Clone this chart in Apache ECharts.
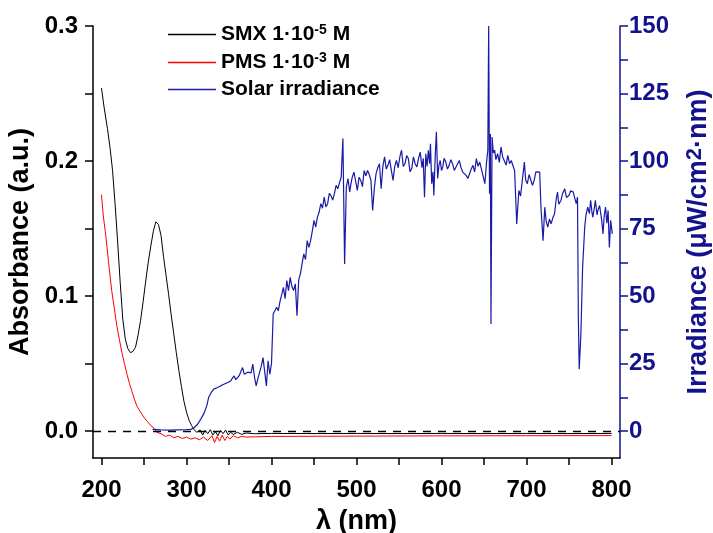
<!DOCTYPE html>
<html>
<head>
<meta charset="utf-8">
<script src="https://cdn.jsdelivr.net/npm/echarts@6/dist/echarts.min.js"></script>
<style>
html,body{margin:0;padding:0;background:#fff;}
#chart{width:713px;height:533px;}
</style>
</head>
<body>
<div id="chart"></div>
<script>
// ---- Data ----
var smxWl  = [200,203,207,210,213,216,219,222,225,228,231,234,237,240,243,246,249,252,255,258,261,264,267,270,273,276,279,282,285,288,291,294,297,300,303,306,309,312,316,319,322,325,328,331,334,337,340,343,346,349,352,355,360,365,370,380,400,450,500,550,600,650,700,750,800];
var smxAbs = [0.254,0.240,0.224,0.210,0.193,0.168,0.140,0.110,0.083,0.068,0.061,0.058,0.059,0.062,0.071,0.082,0.096,0.111,0.125,0.137,0.148,0.155,0.153,0.145,0.129,0.115,0.101,0.086,0.072,0.058,0.045,0.033,0.022,0.014,0.008,0.004,0.001,-0.001,0.0008,-0.003,0.0005,-0.002,0.001,-0.003,-0.0005,-0.0035,0.0005,-0.002,0.0007,-0.003,-0.001,-0.0025,-0.001,-0.0025,-0.0015,-0.002,-0.0018,-0.0019,-0.0018,-0.0019,-0.0018,-0.0019,-0.0018,-0.0019,-0.0018];

var pmsWl  = [200,202,205,209,212,215,218,221,224,227,230,233,236,239,242,246,250,254,258,262,265,270,275,280,285,290,295,300,305,310,315,320,325,330,333,336,339,342,345,348,351,355,360,365,370,400,500,600,700,800];
var pmsAbs = [0.175,0.160,0.145,0.121,0.104,0.091,0.078,0.068,0.058,0.050,0.042,0.035,0.029,0.023,0.018,0.014,0.010,0.007,0.004,0.002,-0.001,-0.002,-0.004,-0.003,-0.005,-0.004,-0.0055,-0.0045,-0.006,-0.005,-0.0065,-0.0045,-0.007,-0.0035,-0.0085,-0.004,-0.0075,-0.003,-0.007,-0.004,-0.006,-0.0035,-0.005,-0.004,-0.0045,-0.004,-0.0038,-0.0036,-0.0035,-0.0034];

var solarWl = [260,270,280,290,300,305,309,313,317,321,324,326,329,332,334,336,338,340,342,344,346,348,350,352,354,356,358,360,362,364,366,368,370,372,374,376,378,380,382,384,386,388,390,392,394,396,398,400,402,404,406,408,410,412,414,416,418,420,422,424,426,428,430,432,434,436,438,440,442,444,446,448,450,452,454,456,458,460,462,464,466,468,470,472,474,476,478,480,482,484,486,488,490,492,493.5,495,497,499,501,503,505,507,509,511,513,515,517,519,521,523,525,527,529,531,533,535,537,539,541,543,545,547,549,551,553,555,557,559,561,563,565,567,569,571,573,575,577,578.5,580,581.5,583,584.5,586,587,588.5,590,591,592.5,594,595.5,597,598.5,600,601.5,603,605,607,609,611,613,615,617,619,621,623,625,627,629,631,633,635,637,639,641,643,645,647,649,651,653,654.5,655.5,656.5,657.5,658.2,659.5,661,662.5,664,666,668,670,672,674,676,678,680,682,684,686,688.5,691,693,695.5,697.5,699,701,703,705,707,709,711,713,715.5,717,719.5,721.5,723,725,727,729,731,733,735,736.5,738,740.5,742.5,745,747,750,752,755,757,758.5,760,761,762,764,766,768.5,770,772,774,775.5,777,778,780,781,783,784,786,787,788.5,790,791.5,793,794.5,796,797.5,799,800,801];
var solarIrr = [0.6,0.4,0.3,0.4,0.5,0.6,1.2,2.5,4.5,6.8,9.5,12.4,14.2,15.5,14.8,16.0,15.6,16.7,16.2,17.3,16.8,17.9,17.2,18.5,19.6,20.4,19.0,18.6,20.5,22.0,23.5,21.0,20.4,21.8,22.5,21.5,24.8,20.0,16.7,19.5,21.7,24.0,27.2,22.0,16.7,26,21,25,43.3,44.0,45.8,44.5,48.0,50.5,53.2,49.0,55.7,52.0,56.9,53.5,52,54.5,42.7,56.0,58.2,62.0,65.6,63.5,70.5,68.0,70.5,74.0,78,75.5,79.2,81.0,84.2,82.5,86.6,83.0,84.2,88.0,87.2,85.5,87.9,91.0,89.7,92.0,94,108.3,61.9,90.3,93.5,88.5,91.6,94.0,95.9,92.5,89.1,94.0,92.8,90.5,96.5,94.5,96.5,95.0,92.8,81.7,90.0,95.3,97.5,99,89.7,98.0,101.5,97.0,98.4,100.5,96.5,92.8,98.0,100.2,97.5,101.5,104,98.0,99,102.0,100.9,96.0,97.2,101.5,99.0,97.8,101.0,103.3,97.5,101.0,86.6,102.7,98.0,104,99.0,106.4,91.6,96.0,87.2,100.9,110.8,93.5,98.5,100.2,96.5,97.8,101.0,99.6,97.0,98.4,100.5,99,96.5,97.2,99.0,100.2,97.5,95.9,96.5,94.7,93.5,95.3,97.0,98.4,96.0,100.9,98.0,99.6,97.0,96.5,91.6,99.6,104,150,87.9,110,39.6,108.9,103.0,104,100.5,102.7,99.5,105.2,101.5,100.9,98.5,102.1,99.0,100.2,100.9,96.5,76.7,89.1,87.0,94,99.6,93.0,91.6,95.0,94.7,91.0,92.8,96.0,95.9,95.9,82.9,70.5,82.9,78.0,75.5,78.5,76.7,79.0,80.5,86.0,88.5,84.0,85.4,88.0,89.7,86.5,87.2,89.0,88.5,86.0,84.2,86.6,42,22.9,35.9,60.6,75.5,80.0,82.9,80.5,85.4,81.0,79.2,83.0,85.4,80.0,81.7,83.5,84.2,78.0,73,80.0,82.9,77.0,81.7,68,78.0,75.5,73];

var xTicks = [200,250,300,350,400,450,500,550,600,650,700,750,800];
var xLabels = [200,300,400,500,600,700,800];
var absTicks = [0,0.05,0.1,0.15,0.2,0.25,0.3];
var absLabels = [0,0.1,0.2,0.3];
var irrTicks = [0,12.5,25,37.5,50,62.5,75,87.5,100,112.5,125,137.5,150];
var irrLabels = [0,25,50,75,100,125,150];

function pairs(xs, ys){ var o=[]; for(var i=0;i<xs.length;i++) o.push([xs[i],ys[i]]); return o; }

var FONT = '"Liberation Sans", Arial, Helvetica, sans-serif';
var NAVY = '#12128c';

var legendMap = {
  'SMX': '{t|SMX 1·10}{s|-5}{t| M}',
  'PMS': '{t|PMS 1·10}{s|-3}{t| M}',
  'Solar irradiance': '{t|Solar irradiance}'
};

var chart = echarts.init(document.getElementById('chart'), null, {renderer:'canvas'});
chart.setOption({
  animation:false,
  backgroundColor:'#fff',
  textStyle:{fontFamily:FONT},
  grid:{left:93,right:93,top:26,bottom:75,containLabel:false,outerBoundsMode:'none'},
  legend:{
    orient:'vertical', left:163, top:18, itemWidth:48, itemHeight:1.3, itemGap:6, icon:'rect',
    data:['SMX','PMS','Solar irradiance'],
    formatter:function(n){ return legendMap[n]; },
    textStyle:{
      fontFamily:FONT,
      rich:{
        t:{fontSize:21,fontWeight:'bold',color:'#000',lineHeight:23,verticalAlign:'middle',fontFamily:FONT},
        s:{fontSize:14,fontWeight:'bold',color:'#000',lineHeight:14,verticalAlign:'top',fontFamily:FONT}
      }
    }
  },
  xAxis:{
    type:'value', min:190, max:810,
    name:'λ (nm)', nameLocation:'middle', nameGap:50,
    nameTextStyle:{fontSize:27,fontWeight:'bold',color:'#000',fontFamily:FONT},
    axisLine:{show:true,onZero:false,lineStyle:{color:'#000',width:1.5}},
    axisTick:{show:true,inside:false,length:7,customValues:xTicks,lineStyle:{color:'#000',width:1.5}},
    axisLabel:{customValues:xLabels,margin:20,fontSize:24,fontWeight:'bold',color:'#000',fontFamily:FONT},
    splitLine:{show:false}
  },
  yAxis:[{
    type:'value', min:-0.02, max:0.3, position:'left',
    name:'Absorbance (a.u.)', nameLocation:'middle', nameGap:45, nameRotate:90,
    nameTextStyle:{fontSize:27,fontWeight:'bold',color:'#000',fontFamily:FONT},
    axisLine:{show:true,onZero:false,lineStyle:{color:'#000',width:1.5}},
    axisTick:{show:true,inside:false,length:8,customValues:absTicks,lineStyle:{color:'#000',width:1.5}},
    axisLabel:{customValues:absLabels,margin:15,fontSize:24,fontWeight:'bold',color:'#000',fontFamily:FONT,
      formatter:function(v){return (Math.abs(v)<1e-9?0:v).toFixed(1);}},
    splitLine:{show:false}
  },{
    type:'value', min:-10, max:150, position:'right',
    name:'{t|Irradiance (μW/cm}{s|2}{t|·nm)}', nameLocation:'middle', nameGap:64, nameRotate:90,
    nameTextStyle:{fontSize:27,fontWeight:'bold',color:NAVY,fontFamily:FONT,
      rich:{
        t:{fontSize:27,fontWeight:'bold',color:NAVY,lineHeight:30,verticalAlign:'middle',fontFamily:FONT},
        s:{fontSize:22,fontWeight:'bold',color:NAVY,lineHeight:22,verticalAlign:'top',fontFamily:FONT}
      }},
    axisLine:{show:true,onZero:false,lineStyle:{color:NAVY,width:1.5}},
    axisTick:{show:true,inside:false,length:8,customValues:irrTicks,lineStyle:{color:NAVY,width:1.5}},
    axisLabel:{customValues:irrLabels,margin:9,fontSize:24,fontWeight:'bold',color:NAVY,fontFamily:FONT},
    splitLine:{show:false}
  }],
  series:[{
    name:'SMX', type:'line', yAxisIndex:0, data:pairs(smxWl,smxAbs),
    showSymbol:false, symbol:'none', lineStyle:{color:'#000',width:1}, itemStyle:{color:'#000'},
    z:3,
    markLine:{silent:true,symbol:'none',label:{show:false},
      lineStyle:{color:'#000',type:[8,7],width:1.3},
      data:[{yAxis:0}]}
  },{
    name:'PMS', type:'line', yAxisIndex:0, data:pairs(pmsWl,pmsAbs),
    showSymbol:false, symbol:'none', lineStyle:{color:'#ff0000',width:1}, itemStyle:{color:'#ff0000'}, z:2
  },{
    name:'Solar irradiance', type:'line', yAxisIndex:1, data:pairs(solarWl,solarIrr),
    showSymbol:false, symbol:'none', lineStyle:{color:'#1a1aa6',width:1.2}, itemStyle:{color:'#1a1aa6'}, z:4
  }]
});
</script>
</body>
</html>
